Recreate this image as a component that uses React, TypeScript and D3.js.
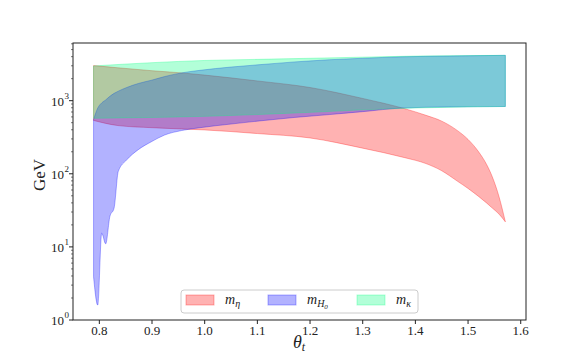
import React from 'react';
import * as d3 from 'd3';

// m_eta band (red)
const thetaEta = [0.789, 0.835, 0.9, 0.956, 1.0, 1.1, 1.2, 1.3, 1.38, 1.42, 1.45, 1.48, 1.5, 1.52, 1.535, 1.546, 1.559, 1.5708];
const etaUpper = [3020, 2818, 2570, 2399, 2239, 1862, 1514, 1072, 776, 631, 525, 389, 295, 200, 135, 91, 48, 22];
const etaLower = [537, 457, 427, 410, 398, 355, 309, 224, 166, 138, 110, 79, 63, 49, 40, 34, 28, 22];

// m_H0 band (blue)
const thetaH0 = [0.789, 0.797, 0.8045, 0.812, 0.82, 0.828, 0.836, 0.852, 0.874, 0.899, 0.924, 0.956, 0.991, 1.05, 1.1, 1.17, 1.237, 1.3, 1.375, 1.464, 1.5708];
const h0Upper = [550, 794, 933, 1023, 1148, 1259, 1349, 1514, 1718, 1905, 2138, 2399, 2600, 2884, 3090, 3388, 3631, 3802, 3981, 4074, 4169];
const h0Lower = [3.9, 1.6, 15.4, 11, 26, 34, 108, 155, 214, 275, 339, 390, 427, 479, 525, 589, 646, 708, 794, 822, 832];

// m_kappa band (green)
const thetaKappa = [0.789, 0.9, 1.0, 1.1, 1.2, 1.3, 1.4, 1.5, 1.5708];
const kappaUpper = [2985, 3311, 3548, 3673, 3802, 3936, 4074, 4140, 4169];
const kappaLower = [575, 589, 610, 646, 692, 750, 794, 822, 832];

const xTicks = [0.8, 0.9, 1.0, 1.1, 1.2, 1.3, 1.4, 1.5, 1.6];
const yTicks = [1, 10, 100, 1000];

const red = '#ff0000';
const blue = '#0000ff';
const green = '#00ff7f';
const serif = '"Liberation Serif", "DejaVu Serif", serif';

const left = 73, right = 526, top = 43, bottom = 320;

export default function App() {
  const x = d3.scaleLinear().domain([0.75, 1.61]).range([left, right]);
  const y = d3.scaleLog().domain([1, 6150]).range([bottom, top]);

  const band = (th: number[], lo: number[], up: number[]) =>
    d3
      .area<number>()
      .x((_, i) => x(th[i]))
      .y0((_, i) => y(lo[i]))
      .y1((d) => y(d))
      .curve(d3.curveMonotoneX)(up) || '';

  const minor: number[] = [];
  for (let k = 0; k < 4; k++) {
    for (let m = 2; m <= 9; m++) {
      const v = m * Math.pow(10, k);
      if (v <= 6150) minor.push(v);
    }
  }

  const bands = [
    { d: band(thetaEta, etaLower, etaUpper), c: red },
    { d: band(thetaH0, h0Lower, h0Upper), c: blue },
    { d: band(thetaKappa, kappaLower, kappaUpper), c: green },
  ];

  const legend = [
    { c: red, px: 186, tx: 225, sub: 'η', sub2: '' },
    { c: blue, px: 268, tx: 307, sub: 'H', sub2: '0' },
    { c: green, px: 357, tx: 396, sub: 'κ', sub2: '' },
  ];

  return (
    <svg width={585} height={360} style={{ position: 'absolute', left: 0, top: 0, background: '#fff' }}>
      {bands.map((b, i) => (
        <path key={i} d={b.d} fill={b.c} fillOpacity={0.3} stroke={b.c} strokeOpacity={0.3} strokeWidth={1} />
      ))}

      {/* frame */}
      <rect x={left} y={top} width={right - left} height={bottom - top} fill="none" stroke="#222" strokeWidth={1} />

      {/* x axis */}
      {xTicks.map((t) => (
        <g key={t}>
          <line x1={x(t)} x2={x(t)} y1={bottom} y2={bottom + 4} stroke="#222" />
          <text x={x(t)} y={bottom + 15} textAnchor="middle" fontFamily={serif} fontSize={13} fill="#222">
            {t.toFixed(1)}
          </text>
        </g>
      ))}
      <text x={299} y={348} textAnchor="middle" fontFamily={serif} fontSize={18} fontStyle="italic" fill="#222">
        θ<tspan fontSize={12} dy={3}>t</tspan>
      </text>

      {/* y axis */}
      {minor.map((v) => (
        <line key={'m' + v} x1={left - 2} x2={left} y1={y(v)} y2={y(v)} stroke="#222" strokeWidth={0.6} />
      ))}
      {yTicks.map((v, i) => (
        <g key={v}>
          <line x1={left - 4} x2={left} y1={y(v)} y2={y(v)} stroke="#222" />
          <text x={64} y={y(v) + 5} textAnchor="end" fontFamily={serif} fontSize={13} fill="#222">
            10
          </text>
          <text x={64.5} y={y(v) - 2} textAnchor="start" fontFamily={serif} fontSize={9} fill="#222">
            {i}
          </text>
        </g>
      ))}
      <text
        transform={`translate(45, 175) rotate(-90)`}
        textAnchor="middle"
        fontFamily={serif}
        fontSize={17}
        fill="#222"
      >
        GeV
      </text>

      {/* legend */}
      <rect x={181} y={290} width={237} height={23} rx={3} fill="#fff" fillOpacity={0.8} stroke="#ccc" strokeWidth={1} />
      {legend.map((l, i) => (
        <g key={i}>
          <rect x={l.px} y={295} width={28} height={10} fill={l.c} fillOpacity={0.3} stroke={l.c} strokeOpacity={0.3} />
          <text x={l.tx} y={304} fontFamily={serif} fontSize={14} fontStyle="italic" fill="#222">
            m
            <tspan fontSize={10} dy={3}>{l.sub}</tspan>
            {l.sub2 ? <tspan fontSize={7} dy={2}>{l.sub2}</tspan> : null}
          </text>
        </g>
      ))}
    </svg>
  );
}
